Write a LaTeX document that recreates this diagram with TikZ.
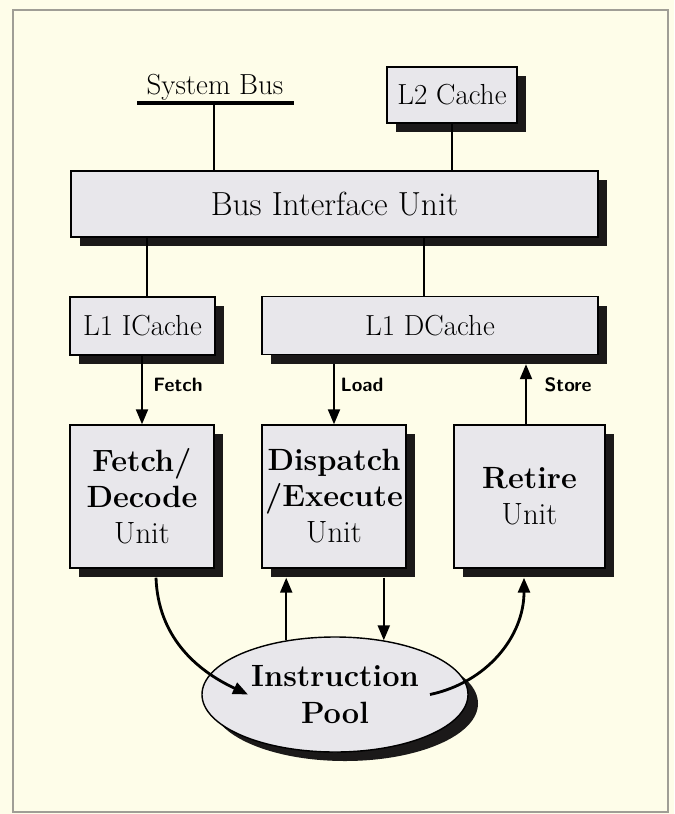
\documentclass[tikz,border=0pt]{standalone}
\usepackage{fontspec}
\usetikzlibrary{shapes.geometric, shadows, arrows.meta}

\definecolor{paper}{HTML}{FEFDE9}
\definecolor{boxgray}{HTML}{E8E7EB}
\definecolor{shade}{HTML}{1B1919}
\definecolor{framegray}{HTML}{A09E96}

\tikzset{
    block/.style={draw, line width=0.8pt, fill=boxgray, inner sep=0pt, align=center,
        drop shadow={shadow xshift=0.18cm, shadow yshift=-0.18cm, fill=shade, opacity=1},
        font=\fontsize{16.5}{19}\selectfont},
    unitbox/.style={block, minimum height=2.86cm, font=\fontsize{17.5}{20.5}\selectfont},
    link/.style={line width=1.2pt},
    flow/.style={line width=1.2pt, -{Triangle[length=0.3cm, width=0.24cm]}},
    tag/.style={font=\sffamily\bfseries\fontsize{11}{13}\selectfont}
}

\begin{document}
\begin{tikzpicture}
    % page and frame
    \useasboundingbox (0,0) rectangle (13.48,-16.28);
    \fill[paper] (0,0) rectangle (13.48,-16.28);
    \draw[framegray, line width=0.6pt] (0.26,-0.2) rectangle (13.36,-16.24);

    % memory side
    \node[font=\fontsize{16.5}{19}\selectfont] (sysbus) at (4.3,-1.74) {System Bus};
    \node[block, minimum width=2.6cm, minimum height=1.12cm] (l2) at (9.04,-1.9) {L2 Cache};
    \node[block, minimum width=10.54cm, minimum height=1.32cm,
        font=\fontsize{19}{22}\selectfont] (biu) at (6.69,-4.08) {Bus Interface Unit};
    \node[block, minimum width=2.9cm, minimum height=1.16cm] (icache) at (2.85,-6.52) {L1 ICache};
    \node[block, minimum width=6.72cm, minimum height=1.16cm] (dcache) at (8.6,-6.51) {L1 DCache};

    % the three units
    \node[unitbox, minimum width=2.88cm] (fetch) at (2.84,-9.93) {\textbf{Fetch/}\\\textbf{Decode}\\Unit};
    \node[unitbox, minimum width=2.88cm] (dispatch) at (6.68,-9.93) {\textbf{Dispatch}\\\textbf{/Execute}\\Unit};
    \node[unitbox, minimum width=3.02cm] (retire) at (10.59,-9.93) {\textbf{Retire}\\Unit};

    \node[ellipse, draw, line width=0.8pt, fill=boxgray, inner sep=0pt, align=center,
        minimum width=5.32cm, minimum height=2.3cm,
        drop shadow={shadow xshift=0.2cm, shadow yshift=-0.18cm, fill=shade, opacity=1},
        font=\bfseries\fontsize{17.5}{21}\selectfont] (pool) at (6.7,-13.89) {Instruction\\Pool};

    % bus wiring
    \coordinate (busL) at (2.74,-2.06);
    \coordinate (busR) at (5.88,-2.06);
    \coordinate (busT) at (4.28,-2.06);
    \draw[line width=2.8pt] (busL) -- (busR);
    \draw[link] (busT) -- (busT |- biu.north);
    \draw[link] (l2.south) -- (l2.south |- biu.north);
    \coordinate (itap) at ([xshift=0.09cm]icache.north);
    \draw[link] (itap |- biu.south) -- (itap);
    \coordinate (dtap) at ([xshift=-0.12cm]dcache.north);
    \draw[link] (dtap |- biu.south) -- (dtap);

    % loads and stores
    \coordinate (dlow) at ([yshift=-0.18cm]dcache.south);
    \coordinate (rtap) at ([xshift=-0.07cm]retire.north);
    \draw[flow] (fetch.north |- icache.south) -- (fetch.north);
    \draw[flow] (dispatch.north |- dlow) -- (dispatch.north);
    \draw[flow] (rtap) -- (rtap |- dlow);
    \node[tag] (fetchtag) at (3.56,-7.7) {Fetch};
    \node[tag] (loadtag) at (7.24,-7.7) {Load};
    \node[tag] (storetag) at (11.36,-7.7) {Store};

    % to and from the pool
    \coordinate (fout) at ([xshift=0.28cm, yshift=-0.18cm]fetch.south);
    \coordinate (dout) at ([yshift=-0.18cm]dispatch.south);
    \coordinate (rin) at ([xshift=-0.11cm, yshift=-0.18cm]retire.south);
    \draw[flow, line width=1.6pt] (fout) to[out=-88, in=155] ([xshift=-1.74cm]pool.center);
    \draw[flow, line width=1.6pt] ([xshift=1.9cm]pool.center) to[out=12, in=-90] (rin);
    \draw[flow] (pool.132) -- (pool.132 |- dout);
    \draw[flow] (pool.48 |- dout) -- (pool.48);
\end{tikzpicture}
\end{document}
